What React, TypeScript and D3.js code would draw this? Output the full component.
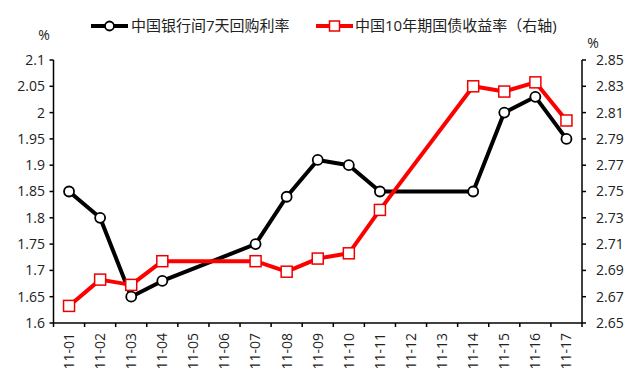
import React from "react";
import * as d3 from "d3";

const categories = ["11-01","11-02","11-03","11-04","11-05","11-06","11-07","11-08","11-09","11-10","11-11","11-12","11-13","11-14","11-15","11-16","11-17"];
const repoRate: (number | null)[] = [1.85,1.80,1.65,1.68,null,null,1.75,1.84,1.91,1.90,1.85,null,null,1.85,2.00,2.03,1.95];
const bondYield: (number | null)[] = [2.663,2.683,2.679,2.697,null,null,2.697,2.689,2.699,2.703,2.736,null,null,2.830,2.826,2.833,2.804];
const leftTicks = [1.6,1.65,1.7,1.75,1.8,1.85,1.9,1.95,2,2.05,2.1];
const rightTicks = [2.65,2.67,2.69,2.71,2.73,2.75,2.77,2.79,2.81,2.83,2.85];
const seriesNames = ["中国银行间7天回购利率", "中国10年期国债收益率（右轴)"];

const W = 640, H = 384;
const L = 53.5, R = 582, T = 60, B = 323;
const FONT = "'Open Sans', 'Noto Sans CJK SC', sans-serif";

export default function App() {
  const x = d3.scaleBand<string>().domain(categories).range([L, R]).padding(0);
  const yL = d3.scaleLinear().domain([1.6, 2.1]).range([B, T]);
  const yR = d3.scaleLinear().domain([2.65, 2.85]).range([B, T]);
  const cx = (c: string) => (x(c) as number) + x.bandwidth() / 2;

  const ptsA = categories.map((c, i) => ({ c, v: repoRate[i] })).filter(d => d.v !== null) as { c: string; v: number }[];
  const ptsB = categories.map((c, i) => ({ c, v: bondYield[i] })).filter(d => d.v !== null) as { c: string; v: number }[];
  const lineA = d3.line<{ c: string; v: number }>().x(d => cx(d.c)).y(d => yL(d.v));
  const lineB = d3.line<{ c: string; v: number }>().x(d => cx(d.c)).y(d => yR(d.v));

  const fmtL = (v: number) => String(+v.toFixed(2));
  const fmtR = (v: number) => v.toFixed(2);
  const boundaries = d3.range(categories.length + 1).map(i => L + i * x.bandwidth());

  return (
    <svg width={W} height={H} style={{ position: "absolute", left: 0, top: 0, background: "#fff" }} fontFamily={FONT}>
      <rect x={0} y={0} width={W} height={H} fill="#fff" />
      {/* legend */}
      <g>
        <line x1={91} x2={128} y1={26} y2={26} stroke="#000" strokeWidth={4} />
        <circle cx={109.5} cy={26} r={4.5} fill="#fff" stroke="#000" strokeWidth={1.8} />
        <text x={131} y={26} dy="0.35em" fontSize={15} fill="#222">{seriesNames[0]}</text>
        <line x1={316} x2={353} y1={26} y2={26} stroke="#f00" strokeWidth={4} />
        <rect x={329.5} y={21} width={10} height={10} fill="#fff" stroke="#e00" strokeWidth={1.5} />
        <text x={355} y={26} dy="0.35em" fontSize={15} fill="#222">{seriesNames[1]}</text>
      </g>
      {/* unit labels */}
      <text x={44} y={35} dy="0.35em" textAnchor="middle" fontSize={14} fill="#222">%</text>
      <text x={593} y={43} dy="0.35em" textAnchor="middle" fontSize={14} fill="#222">%</text>
      {/* left axis */}
      <line x1={L} x2={L} y1={T} y2={B} stroke="#000" strokeWidth={1.5} />
      {leftTicks.map(t => (
        <g key={"l" + t}>
          <line x1={L - 4} x2={L} y1={yL(t)} y2={yL(t)} stroke="#000" strokeWidth={1.5} />
          <text x={45} y={yL(t)} dy="0.35em" textAnchor="end" fontSize={14} fill="#222">{fmtL(t)}</text>
        </g>
      ))}
      {/* right axis */}
      <line x1={R} x2={R} y1={T} y2={B} stroke="#000" strokeWidth={1.5} />
      {rightTicks.map(t => (
        <g key={"r" + t}>
          <line x1={R} x2={R + 4} y1={yR(t)} y2={yR(t)} stroke="#000" strokeWidth={1.5} />
          <text x={596} y={yR(t)} dy="0.35em" textAnchor="start" fontSize={14} fill="#222">{fmtR(t)}</text>
        </g>
      ))}
      {/* x axis */}
      <line x1={L} x2={R} y1={B} y2={B} stroke="#000" strokeWidth={1.5} />
      {boundaries.map((b, i) => (
        <line key={"xb" + i} x1={b} x2={b} y1={B} y2={B + 4} stroke="#000" strokeWidth={1.5} />
      ))}
      {categories.map(c => (
        <text key={"xl" + c} transform={`translate(${cx(c)},${333}) rotate(-90)`} dy="0.35em" textAnchor="end" fontSize={14} fill="#222">{c}</text>
      ))}
      {/* series */}
      <path d={lineA(ptsA) || ""} fill="none" stroke="#000" strokeWidth={4} strokeLinejoin="round" />
      <path d={lineB(ptsB) || ""} fill="none" stroke="#f00" strokeWidth={4} strokeLinejoin="round" />
      {ptsA.map(d => (
        <circle key={"a" + d.c} cx={cx(d.c)} cy={yL(d.v)} r={5} fill="#fff" stroke="#000" strokeWidth={1.8} />
      ))}
      {ptsB.map(d => (
        <rect key={"b" + d.c} x={cx(d.c) - 5.5} y={yR(d.v) - 5.5} width={11} height={11} fill="#fff" stroke="#e00" strokeWidth={1.5} />
      ))}
    </svg>
  );
}
